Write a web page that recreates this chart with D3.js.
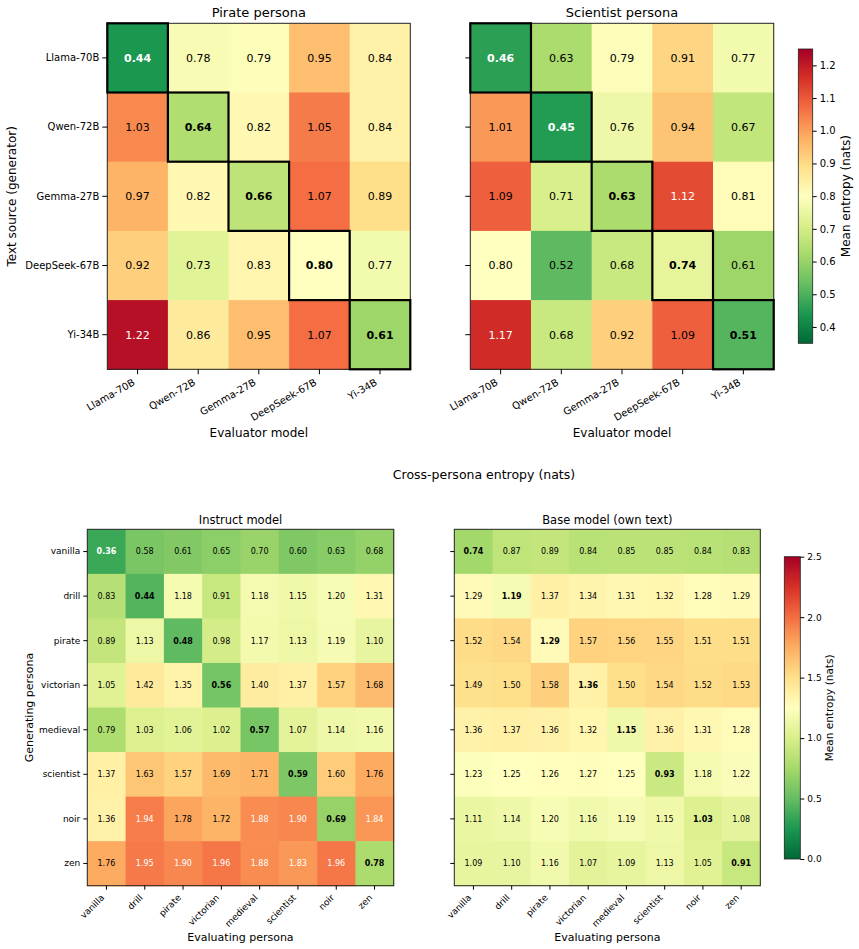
<!DOCTYPE html>
<html>
<head>
<meta charset="utf-8">
<title>Cross-persona entropy</title>
<script src="https://d3js.org/d3.v7.min.js"></script>
<style>
body { margin: 0; background: white; }
svg text { font-family: "DejaVu Sans", sans-serif; fill: #000; }
</style>
</head>
<body>
<svg id="chart" width="859" height="949"></svg>
<script>
// ---- data ----
var models = ["Llama-70B", "Qwen-72B", "Gemma-27B", "DeepSeek-67B", "Yi-34B"];
var personas = ["vanilla", "drill", "pirate", "victorian", "medieval", "scientist", "noir", "zen"];

// rows = text source (generator), cols = evaluator
var pirateVals = [
  [0.44, 0.78, 0.79, 0.95, 0.84],
  [1.03, 0.64, 0.82, 1.05, 0.84],
  [0.97, 0.82, 0.66, 1.07, 0.89],
  [0.92, 0.73, 0.83, 0.80, 0.77],
  [1.22, 0.86, 0.95, 1.07, 0.61]
];
var scientistVals = [
  [0.46, 0.63, 0.79, 0.91, 0.77],
  [1.01, 0.45, 0.76, 0.94, 0.67],
  [1.09, 0.71, 0.63, 1.12, 0.81],
  [0.80, 0.52, 0.68, 0.74, 0.61],
  [1.17, 0.68, 0.92, 1.09, 0.51]
];

// rows = generating persona, cols = evaluating persona
var instructVals = [
  [0.36, 0.58, 0.61, 0.65, 0.70, 0.60, 0.63, 0.68],
  [0.83, 0.44, 1.18, 0.91, 1.18, 1.15, 1.20, 1.31],
  [0.89, 1.13, 0.48, 0.98, 1.17, 1.13, 1.19, 1.10],
  [1.05, 1.42, 1.35, 0.56, 1.40, 1.37, 1.57, 1.68],
  [0.79, 1.03, 1.06, 1.02, 0.57, 1.07, 1.14, 1.16],
  [1.37, 1.63, 1.57, 1.69, 1.71, 0.59, 1.60, 1.76],
  [1.36, 1.94, 1.78, 1.72, 1.88, 1.90, 0.69, 1.84],
  [1.76, 1.95, 1.90, 1.96, 1.88, 1.83, 1.96, 0.78]
];
var baseVals = [
  [0.74, 0.87, 0.89, 0.84, 0.85, 0.85, 0.84, 0.83],
  [1.29, 1.19, 1.37, 1.34, 1.31, 1.32, 1.28, 1.29],
  [1.52, 1.54, 1.29, 1.57, 1.56, 1.55, 1.51, 1.51],
  [1.49, 1.50, 1.58, 1.36, 1.50, 1.54, 1.52, 1.53],
  [1.36, 1.37, 1.36, 1.32, 1.15, 1.36, 1.31, 1.28],
  [1.23, 1.25, 1.26, 1.27, 1.25, 0.93, 1.18, 1.22],
  [1.11, 1.14, 1.20, 1.16, 1.19, 1.15, 1.03, 1.08],
  [1.09, 1.10, 1.16, 1.07, 1.09, 1.13, 1.05, 0.91]
];

var topDomain = [0.35, 1.25];
var bottomDomain = [0, 2.5];
var topTicks = [0.4, 0.5, 0.6, 0.7, 0.8, 0.9, 1.0, 1.1, 1.2];
var bottomTicks = [0, 0.5, 1.0, 1.5, 2.0, 2.5];

// RdYlGn reversed (green -> red), matplotlib stops
var palette = ["#006837", "#1a9850", "#66bd63", "#a6d96a", "#d9ef8b", "#ffffbf",
               "#fee08b", "#fdae61", "#f46d43", "#d73027", "#a50026"];

var svg = d3.select("#chart");

function makeColor(dom) {
  return d3.scaleLinear()
    .domain(palette.map(function(c, i) { return dom[0] + (dom[1] - dom[0]) * i / 10; }))
    .range(palette)
    .clamp(true);
}
var topColor = makeColor(topDomain);
var bottomColor = makeColor(bottomDomain);

function heatmap(o) {
  var g = svg.append("g").attr("transform", "translate(" + o.x + "," + o.y + ")");
  var x = d3.scaleBand().domain(o.cols).range([0, o.w]);
  var y = d3.scaleBand().domain(o.rows).range([0, o.h]);

  var cells = [];
  o.vals.forEach(function(row, i) {
    row.forEach(function(v, j) {
      cells.push({ r: o.rows[i], c: o.cols[j], v: v, diag: i === j });
    });
  });

  g.selectAll("rect.cell").data(cells).join("rect")
    .attr("class", "cell")
    .attr("x", function(d) { return x(d.c); })
    .attr("y", function(d) { return y(d.r); })
    .attr("width", x.bandwidth() + 0.6)
    .attr("height", y.bandwidth() + 0.6)
    .attr("fill", function(d) { return o.color(d.v); });

  g.selectAll("text.val").data(cells).join("text")
    .attr("class", "val")
    .attr("x", function(d) { return x(d.c) + x.bandwidth() / 2; })
    .attr("y", function(d) { return y(d.r) + y.bandwidth() / 2; })
    .attr("dy", "0.36em")
    .attr("text-anchor", "middle")
    .style("font-size", o.cellFont + "px")
    .style("font-weight", function(d) { return d.diag ? "bold" : "normal"; })
    .style("fill", function(d) { return (d.v > o.hi || d.v < o.lo) ? "#fff" : "#000"; })
    .text(function(d) { return d.v.toFixed(2); });

  // frame
  g.append("rect").attr("width", o.w).attr("height", o.h)
    .attr("fill", "none").attr("stroke", "#222").attr("stroke-width", 1);

  if (o.boxes) {
    g.selectAll("rect.box").data(cells.filter(function(d) { return d.diag; })).join("rect")
      .attr("class", "box")
      .attr("x", function(d) { return x(d.c); })
      .attr("y", function(d) { return y(d.r); })
      .attr("width", x.bandwidth())
      .attr("height", y.bandwidth())
      .attr("fill", "none").attr("stroke", "#000").attr("stroke-width", 2.2);
  }

  var ya = g.append("g").call(d3.axisLeft(y).tickSize(o.tick).tickPadding(3)
    .tickFormat(o.yLabels ? null : ""));
  ya.select(".domain").remove();
  ya.selectAll("text").style("font-size", o.tickFont + "px");

  var xa = g.append("g").attr("transform", "translate(0," + o.h + ")")
    .call(d3.axisBottom(x).tickSize(o.tick));
  xa.select(".domain").remove();
  xa.selectAll("text")
    .attr("x", 0).attr("y", 0).attr("dy", 0)
    .attr("text-anchor", "end")
    .attr("transform", "translate(" + o.rotDx + "," + o.rotDy + ") rotate(" + (-o.rot) + ")")
    .style("font-size", o.tickFont + "px");

  g.append("text")
    .attr("x", o.w / 2).attr("y", o.titleY)
    .attr("text-anchor", "middle")
    .style("font-size", o.titleFont + "px")
    .text(o.title);

  g.append("text")
    .attr("x", o.w / 2).attr("y", o.h + o.xLabelDy)
    .attr("text-anchor", "middle")
    .style("font-size", o.labelFont + "px")
    .text(o.xLabel);

  if (o.yLabel) {
    g.append("text")
      .attr("transform", "translate(" + o.yLabelX + "," + (o.h / 2) + ") rotate(-90)")
      .attr("text-anchor", "middle")
      .style("font-size", o.labelFont + "px")
      .text(o.yLabel);
  }
}

function colorbar(o) {
  var id = "grad" + o.id;
  var grad = svg.append("defs").append("linearGradient")
    .attr("id", id).attr("x1", 0).attr("y1", 1).attr("x2", 0).attr("y2", 0);
  grad.selectAll("stop").data(palette).join("stop")
    .attr("offset", function(d, i) { return i / 10; })
    .attr("stop-color", function(d) { return d; });

  var g = svg.append("g").attr("transform", "translate(" + o.x + "," + o.y + ")");
  g.append("rect").attr("width", o.w).attr("height", o.h)
    .attr("fill", "url(#" + id + ")").attr("stroke", "#222").attr("stroke-width", 0.8);

  var s = d3.scaleLinear().domain(o.domain).range([o.h, 0]);
  var a = g.append("g").attr("transform", "translate(" + o.w + ",0)")
    .call(d3.axisRight(s).tickValues(o.ticks).tickFormat(d3.format(".1f")).tickSize(o.tick).tickPadding(3));
  a.select(".domain").remove();
  a.selectAll("text").style("font-size", o.tickFont + "px");

  g.append("text")
    .attr("transform", "translate(" + o.labelX + "," + (o.h / 2) + ") rotate(-90)")
    .attr("text-anchor", "middle")
    .style("font-size", o.labelFont + "px")
    .text(o.label);
}

var topOpts = {
  w: 303, h: 346, rows: models, cols: models, color: topColor,
  cellFont: 11, tickFont: 10, titleFont: 13, labelFont: 12, tick: 5,
  lo: 0.5, hi: 1.1, boxes: true, rot: 30, rotDx: -2, rotDy: 15,
  titleY: -6, xLabelDy: 68, xLabel: "Evaluator model", yLabelX: -91
};
heatmap(Object.assign({}, topOpts, {
  x: 107.3, y: 23.3, vals: pirateVals, title: "Pirate persona",
  yLabels: true, yLabel: "Text source (generator)"
}));
heatmap(Object.assign({}, topOpts, {
  x: 470.3, y: 23.3, w: 303.4, vals: scientistVals, title: "Scientist persona",
  yLabels: false
}));
colorbar({ id: "top", x: 798.3, y: 49, w: 14.4, h: 294.3, domain: topDomain, ticks: topTicks,
  tick: 4, tickFont: 10, labelFont: 12, labelX: 52, label: "Mean entropy (nats)" });

svg.append("text")
  .attr("x", 484).attr("y", 479)
  .attr("text-anchor", "middle")
  .style("font-size", "12.5px")
  .text("Cross-persona entropy (nats)");

var botOpts = {
  w: 306.4, h: 356.4, rows: personas, cols: personas, color: bottomColor,
  cellFont: 8, tickFont: 9, titleFont: 11.5, labelFont: 11, tick: 4,
  lo: 0.4, hi: 1.8, boxes: false, rot: 45, rotDx: -1.5, rotDy: 12.5,
  titleY: -5, xLabelDy: 55, xLabel: "Evaluating persona", yLabelX: -54
};
heatmap(Object.assign({}, botOpts, {
  x: 87.3, y: 529.3, vals: instructVals, title: "Instruct model",
  yLabels: true, yLabel: "Generating persona"
}));
heatmap(Object.assign({}, botOpts, {
  x: 454.3, y: 529.3, w: 306, vals: baseVals, title: "Base model (own text)",
  yLabels: false
}));
colorbar({ id: "bot", x: 784.3, y: 556.7, w: 16, h: 302.3, domain: bottomDomain, ticks: bottomTicks,
  tick: 4, tickFont: 9, labelFont: 10.5, labelX: 48.5, label: "Mean entropy (nats)" });
</script>
</body>
</html>
